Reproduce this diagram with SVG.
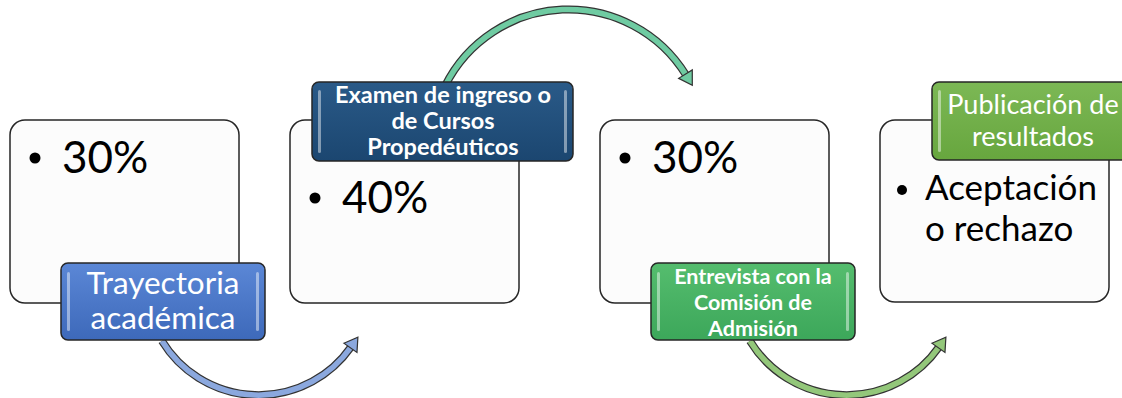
<svg xmlns="http://www.w3.org/2000/svg" width="1122" height="398" viewBox="0 0 1122 398">
<style>
.box{fill:#fcfcfc;stroke:#262626;stroke-width:1.5}
.lbl{stroke:#262626;stroke-width:1.5}
.hl{fill:#ffffff;opacity:0.45}
.big{font-family:Lato,"Noto Sans",sans-serif;font-size:44px;fill:#000}
.mid{font-family:Lato,"Noto Sans",sans-serif;font-size:35px;fill:#000}
.lt{font-family:Lato,"Noto Sans",sans-serif;fill:#fff;text-anchor:middle}
.outl{fill:none;stroke:#333;stroke-width:8}
</style>
<defs>
<linearGradient id="gB" x1="0" y1="0" x2="0" y2="1"><stop offset="0" stop-color="#5b87d6"/><stop offset="1" stop-color="#3d69ba"/></linearGradient>
<linearGradient id="gN" x1="0" y1="0" x2="0" y2="1"><stop offset="0" stop-color="#2a5a88"/><stop offset="1" stop-color="#1b4670"/></linearGradient>
<linearGradient id="gG" x1="0" y1="0" x2="0" y2="1"><stop offset="0" stop-color="#55bd6e"/><stop offset="1" stop-color="#3ca75a"/></linearGradient>
<linearGradient id="gL" x1="0" y1="0" x2="0" y2="1"><stop offset="0" stop-color="#7cb855"/><stop offset="1" stop-color="#67a63e"/></linearGradient>
<marker id="mB" markerUnits="userSpaceOnUse" markerWidth="20" markerHeight="20" viewBox="-2 -10 16 20" refX="1" refY="0" orient="auto"><path d="M0,-8 L13,0 L0,8 Z" fill="#8ba8de" stroke="#333" stroke-width="1.2"/></marker>
<marker id="mT" markerUnits="userSpaceOnUse" markerWidth="20" markerHeight="20" viewBox="-2 -10 16 20" refX="1" refY="0" orient="auto"><path d="M0,-8 L13,0 L0,8 Z" fill="#6fcba2" stroke="#333" stroke-width="1.2"/></marker>
<marker id="mG" markerUnits="userSpaceOnUse" markerWidth="20" markerHeight="20" viewBox="-2 -10 16 20" refX="1" refY="0" orient="auto"><path d="M0,-8 L13,0 L0,8 Z" fill="#93c77a" stroke="#333" stroke-width="1.2"/></marker>
</defs>

<g id="connectors">
<path class="outl" d="M162,341 A113,113 0 0 0 351,347"/>
<path d="M162,341 A113,113 0 0 0 351,347" fill="none" stroke="#8ba8de" stroke-width="5.5" marker-end="url(#mB)"/>
<path class="outl" d="M445,86 A138,138 0 0 1 686,75"/>
<path d="M445,86 A138,138 0 0 1 686,75" fill="none" stroke="#6fcba2" stroke-width="5.5" marker-end="url(#mT)"/>
<path class="outl" d="M750,341 A113,113 0 0 0 939,347"/>
<path d="M750,341 A113,113 0 0 0 939,347" fill="none" stroke="#93c77a" stroke-width="5.5" marker-end="url(#mG)"/>
</g>

<g id="node1">
<rect class="box" x="10" y="120" width="229" height="183" rx="15"/>
<circle cx="35" cy="158" r="5.5" fill="#000"/>
<text class="big" x="62" y="173">30%</text>
<rect class="lbl" x="61" y="263" width="204" height="77" rx="7" fill="url(#gB)"/>
<rect class="hl" x="67" y="272" width="3" height="59" rx="1.5"/>
<rect class="hl" x="256" y="272" width="3" height="59" rx="1.5"/>
<text class="lt" font-size="31.5" x="163" y="294">Trayectoria</text>
<text class="lt" font-size="31.5" x="163" y="329">académica</text>
</g>

<g id="node2">
<rect class="box" x="290" y="120" width="229" height="183" rx="15"/>
<circle cx="315" cy="198" r="5.5" fill="#000"/>
<text class="big" x="342" y="213">40%</text>
<rect class="lbl" x="312" y="82" width="261" height="79" rx="7" fill="url(#gN)"/>
<rect class="hl" x="318" y="90" width="3" height="63" rx="1.5"/>
<rect class="hl" x="564" y="90" width="3" height="63" rx="1.5"/>
<text class="lt" font-size="23.5" font-weight="bold" x="443" y="103">Examen de ingreso o</text>
<text class="lt" font-size="23.5" font-weight="bold" x="443" y="129">de Cursos</text>
<text class="lt" font-size="23.5" font-weight="bold" x="443" y="155">Propedéuticos</text>
</g>

<g id="node3">
<rect class="box" x="600" y="120" width="229" height="183" rx="15"/>
<circle cx="625" cy="158" r="5.5" fill="#000"/>
<text class="big" x="652" y="173">30%</text>
<rect class="lbl" x="651" y="263" width="204" height="77" rx="7" fill="url(#gG)"/>
<rect class="hl" x="657" y="272" width="3" height="59" rx="1.5"/>
<rect class="hl" x="846" y="272" width="3" height="59" rx="1.5"/>
<text class="lt" font-size="21.5" font-weight="bold" x="753" y="284">Entrevista con la</text>
<text class="lt" font-size="21.5" font-weight="bold" x="753" y="310">Comisión de</text>
<text class="lt" font-size="21.5" font-weight="bold" x="753" y="336">Admisión</text>
</g>

<g id="node4">
<rect class="box" x="880" y="120" width="229" height="182" rx="15"/>
<circle cx="902" cy="190" r="5" fill="#000"/>
<text class="mid" x="925" y="200">Aceptación</text>
<text class="mid" x="925" y="241">o rechazo</text>
<rect class="lbl" x="932" y="82" width="200" height="78" rx="7" fill="url(#gL)"/>
<rect class="hl" x="938" y="90" width="3" height="62" rx="1.5"/>
<text class="lt" font-size="27" x="1033" y="114">Publicación de</text>
<text class="lt" font-size="27" x="1033" y="146">resultados</text>
</g>
</svg>
